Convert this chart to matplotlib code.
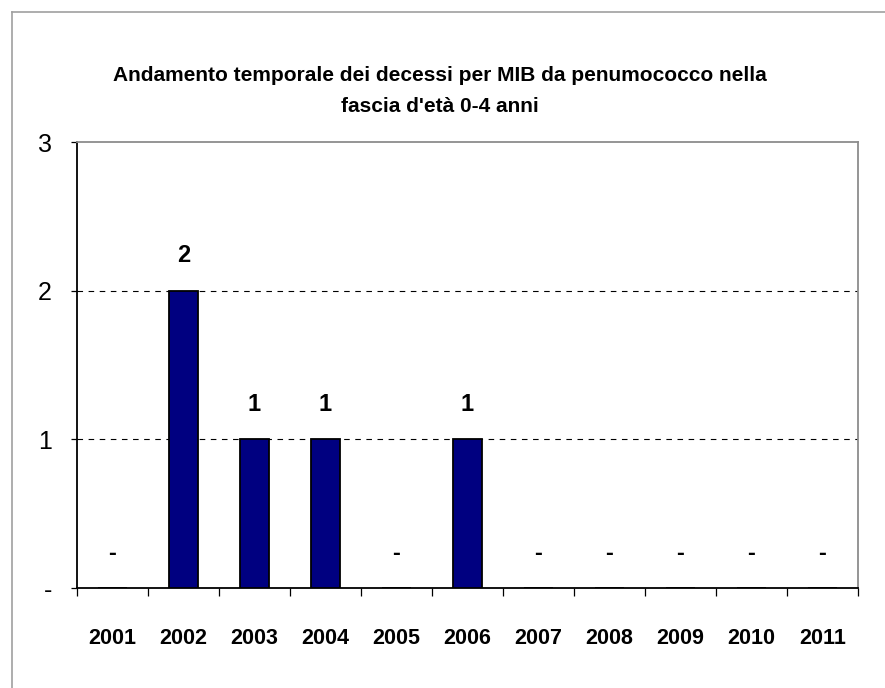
import numpy as np
import matplotlib
matplotlib.use('Agg')
import matplotlib.pyplot as plt
from matplotlib.lines import Line2D

# ---- Data ----
years = ['2001', '2002', '2003', '2004', '2005', '2006',
         '2007', '2008', '2009', '2010', '2011']
deaths = [0, 2, 1, 1, 0, 1, 0, 0, 0, 0, 0]
y_ticks = [0, 1, 2, 3]
y_ticklabels = ['-', '1', '2', '3']

title = ("Andamento temporale dei decessi per MIB da penumococco nella\n"
         "fascia d'età 0-4 anni")

FONT = ['Liberation Sans', 'DejaVu Sans']
plt.rcParams['font.family'] = FONT

W, H = 885, 688
fig = plt.figure(figsize=(W / 100, H / 100), dpi=100)
fig.patch.set_facecolor('white')

# plot area in pixel coords: left 77, right 858, top 142, bottom 588
ax = fig.add_axes([77 / W, 1 - 588 / H, (858 - 77) / W, (588 - 142) / H])

x = np.arange(len(years))
ax.bar(x, deaths, width=0.42, color='#000080', edgecolor='black',
       linewidth=1.3, zorder=3)

# data labels ('-' for zero, Excel style)
for xi, v in zip(x, deaths):
    ax.annotate(str(v) if v else '-', xy=(xi, v), xytext=(0, 25),
                textcoords='offset points', ha='center', va='center',
                fontsize=17, fontweight='bold', zorder=4)

ax.set_xlim(-0.5, len(years) - 0.5)
ax.set_ylim(0, 3)

# gridlines at 1 and 2
for g in [1, 2]:
    ax.axhline(g, color='black', linestyle=(0, (5, 5)), linewidth=0.8, zorder=1)

ax.set_yticks(y_ticks)
ax.set_yticklabels(y_ticklabels, fontsize=18)
ax.tick_params(axis='y', length=4, width=0.9, pad=14, direction='out')

# x ticks between categories, labels at category centres
ax.set_xticks(np.arange(-0.5, len(years), 1.0))
ax.set_xticklabels([])
ax.set_xticks(x, minor=True)
ax.set_xticklabels(years, minor=True, fontsize=15.5, fontweight='bold')
ax.tick_params(axis='x', which='major', length=6, width=0.9, direction='out')
ax.tick_params(axis='x', which='minor', length=0, pad=29)

for side in ['left', 'bottom']:
    ax.spines[side].set_color('black')
    ax.spines[side].set_linewidth(1.3)
for side in ['top', 'right']:
    ax.spines[side].set_color('#8c8c8c')
    ax.spines[side].set_linewidth(1.3)

fig.text(440 / W, 1 - 91 / H, title, ha='center', va='center',
         fontsize=15, fontweight='bold', linespacing=1.8)

# outer chart border (left and top visible)
fig.add_artist(Line2D([12 / W, 12 / W], [0, 1 - 12 / H],
                      transform=fig.transFigure, color='#a0a0a0', linewidth=1.2))
fig.add_artist(Line2D([12 / W, 1], [1 - 12 / H, 1 - 12 / H],
                      transform=fig.transFigure, color='#a0a0a0', linewidth=1.2))

fig.savefig('out.png', dpi=100, facecolor='white')
